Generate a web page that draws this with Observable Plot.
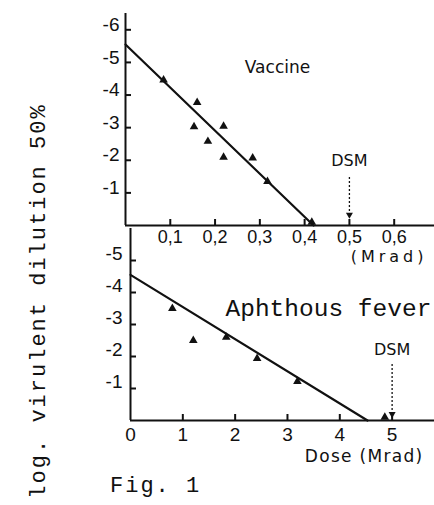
<!DOCTYPE html>
<html><head><meta charset="utf-8">
<script src="https://cdn.jsdelivr.net/npm/d3@7"></script>
<script src="https://cdn.jsdelivr.net/npm/@observablehq/plot@0.6"></script>
<style>
body{margin:0;background:#fff;}
#wrap{position:relative;width:434px;height:505px;overflow:hidden;background:#fff;}
#wrap svg{position:absolute;left:0;background:transparent;}
.mono{position:absolute;font-family:"Liberation Mono","DejaVu Sans Mono",monospace;color:#111;white-space:nowrap;}
</style></head><body><div id="wrap"></div>
<script>
// Vaccine panel (dose in Mrad, log virulent dilution 50%)
const vaccineDose = [0.085, 0.16, 0.153, 0.184, 0.219, 0.219, 0.284, 0.317, 0.416];
const vaccineLog  = [4.46, 3.77, 3.03, 2.58, 3.04, 2.09, 2.07, 1.35, 0.1];
const vaccineFitDose = [0, 0.42];
const vaccineFitLog  = [5.55, 0];
// Aphthous fever panel
const feverDose = [0.8, 1.2, 1.83, 2.42, 3.19, 4.86];
const feverLog  = [3.5, 2.5, 2.6, 1.94, 1.22, 0.1];
const feverFitDose = [0, 4.53];
const feverFitLog  = [4.55, 0];
// ticks
const topXTicks = [0.1, 0.2, 0.3, 0.4, 0.5, 0.6];
const topYTicks = [1, 2, 3, 4, 5, 6];
const botXTicks = [0, 1, 2, 3, 4, 5];
const botYTicks = [1, 2, 3, 4, 5];
const dsmTop = [0.5];
const dsmBottom = [5];

const ink = "#111";
const tickFont = '"Liberation Sans",sans-serif';
const wrap = document.getElementById("wrap");

const vPts = vaccineDose.map((d, i) => ({dose: d, log: vaccineLog[i]}));
const vFit = vaccineFitDose.map((d, i) => ({dose: d, log: vaccineFitLog[i]}));
const fPts = feverDose.map((d, i) => ({dose: d, log: feverLog[i]}));
const fFit = feverFitDose.map((d, i) => ({dose: d, log: feverFitLog[i]}));

// short inward ticks: full-frame rules shrunk by insets to a few pixels
const yTicksIn = (ticks, innerW) => Plot.ruleY(ticks, {insetRight: innerW - 6, stroke: ink, strokeWidth: 2});
const xTicksIn = (ticks, innerH) => Plot.ruleX(ticks, {insetTop: innerH - 6, stroke: ink, strokeWidth: 2});

function spacing(svg, content, px) {
  const t = Array.from(svg.querySelectorAll("text")).find(e => e.textContent === content);
  if (t) t.style.letterSpacing = px + "px";
}

const topPlot = Plot.plot({
  width: 434, height: 275,
  marginLeft: 125, marginRight: 0, marginTop: 13, marginBottom: 50,
  x: {domain: [0, 0.69]},
  y: {domain: [0, 6.5]},
  style: {fontFamily: tickFont, fontSize: "18px", color: ink, background: "transparent", overflow: "visible"},
  marks: [
    Plot.ruleY([0], {stroke: ink, strokeWidth: 2}),
    Plot.ruleX([0], {stroke: ink, strokeWidth: 2}),
    yTicksIn(topYTicks, 309),
    xTicksIn(topXTicks, 212),
    Plot.axisY({ticks: topYTicks, tickSize: 0, tickPadding: 6, dy: -5, tickFormat: d => "-" + d, label: null, fill: ink, fontSize: 19}),
    Plot.axisX({ticks: topXTicks, tickSize: 0, tickPadding: 5, tickFormat: d => d3.format(".1f")(d).replace(".", ","), label: null, fill: ink}),
    Plot.line(vFit, {x: "dose", y: "log", stroke: ink, strokeWidth: 2.2}),
    Plot.dot(vPts, {x: "dose", y: "log", symbol: "triangle", r: 3.2, fill: ink, stroke: null}),
    Plot.text(["Vaccine"], {frameAnchor: "top-left", dx: 152, dy: 47, textAnchor: "middle", fontFamily: '"DejaVu Sans",sans-serif', fontSize: 17, fill: ink}),
    Plot.text(["DSM"], {x: dsmTop, frameAnchor: "bottom", dy: -60, fontFamily: '"DejaVu Sans",sans-serif', fontSize: 16, fill: ink}),
    Plot.ruleX(dsmTop, {y1: 1.47, y2: 0.42, stroke: ink, strokeWidth: 1.3, strokeDasharray: "2,2"}),
    Plot.dot(dsmTop, {x: d => d, y: 0.33, symbol: "triangle", rotate: 180, r: 2.6, fill: ink, stroke: null}),
    Plot.text(["(Mrad)"], {frameAnchor: "bottom-right", dx: -7, dy: 36, textAnchor: "end", fontFamily: '"DejaVu Sans",sans-serif', fontSize: 16, fill: ink})
  ]
});
topPlot.style.top = "0px";
wrap.appendChild(topPlot);
spacing(topPlot, "(Mrad)", 4);

const bottomPlot = Plot.plot({
  width: 434, height: 277,
  marginLeft: 130, marginRight: 0, marginTop: 0, marginBottom: 85,
  x: {domain: [0, 5.81]},
  y: {domain: [0, 6]},
  style: {fontFamily: tickFont, fontSize: "19px", color: ink, background: "transparent", overflow: "visible"},
  marks: [
    Plot.ruleY([0], {stroke: ink, strokeWidth: 2}),
    Plot.ruleX([0], {stroke: ink, strokeWidth: 2}),
    yTicksIn(botYTicks, 304),
    xTicksIn(botXTicks.slice(1), 192),
    Plot.axisY({ticks: botYTicks, tickSize: 0, tickPadding: 8, dy: -7, tickFormat: d => "-" + d, label: null, fill: ink}),
    Plot.axisX({ticks: botXTicks, tickSize: 0, tickPadding: 7, tickFormat: d => String(d), label: null, fill: ink}),
    Plot.line(fFit, {x: "dose", y: "log", stroke: ink, strokeWidth: 2.2}),
    Plot.dot(fPts, {x: "dose", y: "log", symbol: "triangle", r: 3.2, fill: ink, stroke: null}),
    Plot.text(["Aphthous fever"], {frameAnchor: "top-left", dx: 95, dy: 70, textAnchor: "start", fontFamily: '"Liberation Mono","DejaVu Sans Mono",monospace', fontSize: 24.5, fill: ink}),
    Plot.text(["DSM"], {x: dsmBottom, frameAnchor: "bottom", dy: -66, fontFamily: '"DejaVu Sans",sans-serif', fontSize: 16, fill: ink}),
    Plot.ruleX(dsmBottom, {y1: 1.75, y2: 0.3, stroke: ink, strokeWidth: 1.3, strokeDasharray: "2,2"}),
    Plot.dot(dsmBottom, {x: d => d, y: 0.2, symbol: "triangle", rotate: 180, r: 2.6, fill: ink, stroke: null}),
    Plot.text(["Dose (Mrad)"], {frameAnchor: "bottom-right", dx: -11, dy: 41, textAnchor: "end", fontFamily: '"DejaVu Sans",sans-serif', fontSize: 17, fill: ink})
  ]
});
bottomPlot.style.top = "228px";
wrap.appendChild(bottomPlot);
spacing(bottomPlot, "Dose (Mrad)", 1.3);

const ylab = document.createElement("div");
ylab.className = "mono";
ylab.textContent = "log. virulent dilution 50%";
ylab.style.cssText += "left:39px;top:301px;font-size:22px;letter-spacing:2px;transform:translate(-50%,-50%) rotate(-90deg);";
wrap.appendChild(ylab);

const cap = document.createElement("div");
cap.className = "mono";
cap.textContent = "Fig. 1";
cap.style.cssText += "left:110px;top:474px;font-size:22px;letter-spacing:2px;";
wrap.appendChild(cap);
</script></body></html>
